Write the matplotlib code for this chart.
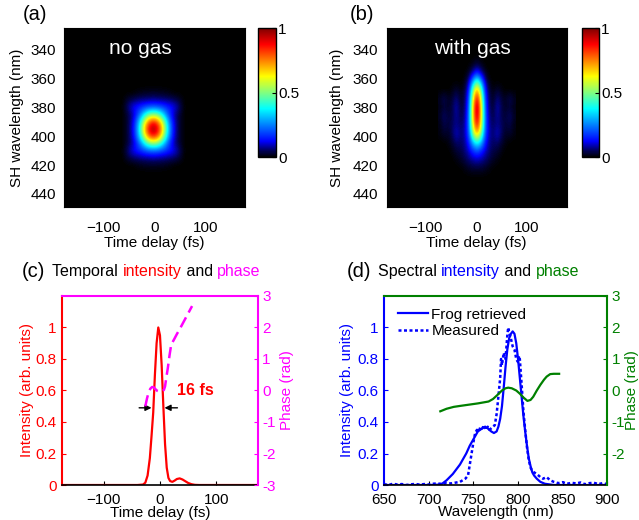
import matplotlib
matplotlib.use('Agg')
import matplotlib.pyplot as plt
from matplotlib.colors import LinearSegmentedColormap
import numpy as np

plt.rcParams['font.family'] = ['Liberation Sans', 'DejaVu Sans']
plt.rcParams['font.size'] = 11

###### FROG trace without gas (a)
a_delay = np.arange(-62, 59, 10)      # fs
a_wl = np.arange(365, 426, 5)         # nm
a_trace = np.array([
    [0, 0, 0, 0, 0, 0, 0, 0, 0, 0, 0, 0, 0],
    [0, 0, 0, 0.01, 0.015, 0.02, 0.02, 0.02, 0.015, 0.01, 0, 0, 0],
    [0, 0.03, 0.05, 0.06, 0.07, 0.07, 0.08, 0.07, 0.07, 0.06, 0.05, 0.03, 0],
    [0, 0.06, 0.12, 0.15, 0.18, 0.21, 0.22, 0.21, 0.18, 0.15, 0.12, 0.06, 0],
    [0, 0.03, 0.08, 0.18, 0.33, 0.47, 0.52, 0.47, 0.33, 0.18, 0.08, 0.03, 0],
    [0, 0.03, 0.1, 0.27, 0.52, 0.76, 0.86, 0.76, 0.52, 0.27, 0.1, 0.03, 0],
    [0, 0.03, 0.11, 0.3, 0.6, 0.88, 1.00, 0.88, 0.6, 0.3, 0.11, 0.03, 0],
    [0, 0.03, 0.1, 0.27, 0.52, 0.76, 0.86, 0.76, 0.52, 0.27, 0.1, 0.03, 0],
    [0, 0.03, 0.08, 0.18, 0.33, 0.47, 0.52, 0.47, 0.33, 0.18, 0.08, 0.03, 0],
    [0, 0.06, 0.12, 0.15, 0.18, 0.21, 0.22, 0.21, 0.18, 0.15, 0.12, 0.06, 0],
    [0, 0.03, 0.05, 0.06, 0.07, 0.07, 0.08, 0.07, 0.07, 0.06, 0.05, 0.03, 0],
    [0, 0, 0, 0.01, 0.015, 0.02, 0.02, 0.02, 0.015, 0.01, 0, 0, 0],
    [0, 0, 0, 0, 0, 0, 0, 0, 0, 0, 0, 0, 0],
])

###### FROG trace with gas (b)
b_delay = np.arange(-72, 73, 8)       # fs
b_wl = np.arange(344, 429, 6)         # nm
b_trace = np.array([
    [0, 0, 0, 0, 0, 0, 0, 0, 0, 0, 0, 0, 0, 0, 0, 0, 0, 0, 0],
    [0, 0, 0, 0, 0, 0, 0, 0, 0.01, 0.03, 0.01, 0, 0, 0, 0, 0, 0, 0, 0],
    [0, 0, 0, 0, 0, 0, 0, 0.02, 0.08, 0.15, 0.08, 0.02, 0, 0, 0, 0, 0, 0, 0],
    [0, 0, 0, 0, 0, 0, 0.01, 0.08, 0.28, 0.45, 0.28, 0.08, 0.01, 0, 0, 0, 0, 0, 0],
    [0, 0, 0, 0.01, 0.03, 0.01, 0.03, 0.14, 0.48, 0.75, 0.48, 0.14, 0.03, 0.01, 0.03, 0.01, 0, 0, 0],
    [0.02, 0.05, 0.02, 0.03, 0.07, 0.02, 0.04, 0.18, 0.6, 0.92, 0.6, 0.18, 0.04, 0.02, 0.07, 0.03, 0.02, 0.05, 0.02],
    [0.01, 0.03, 0.02, 0.04, 0.09, 0.03, 0.05, 0.2, 0.66, 1.0, 0.66, 0.2, 0.05, 0.03, 0.09, 0.04, 0.02, 0.03, 0.01],
    [0.02, 0.06, 0.03, 0.04, 0.08, 0.04, 0.06, 0.22, 0.66, 0.98, 0.66, 0.22, 0.06, 0.04, 0.08, 0.04, 0.03, 0.06, 0.02],
    [0.01, 0.04, 0.03, 0.05, 0.07, 0.05, 0.07, 0.22, 0.62, 0.9, 0.62, 0.22, 0.07, 0.05, 0.07, 0.05, 0.03, 0.04, 0.01],
    [0.01, 0.03, 0.02, 0.05, 0.1, 0.06, 0.08, 0.2, 0.52, 0.72, 0.52, 0.2, 0.08, 0.06, 0.1, 0.05, 0.02, 0.03, 0.01],
    [0, 0, 0.01, 0.03, 0.06, 0.05, 0.07, 0.15, 0.32, 0.42, 0.32, 0.15, 0.07, 0.05, 0.06, 0.03, 0.01, 0, 0],
    [0, 0, 0, 0.01, 0.03, 0.04, 0.06, 0.1, 0.16, 0.2, 0.16, 0.1, 0.06, 0.04, 0.03, 0.01, 0, 0, 0],
    [0, 0, 0, 0, 0.01, 0.02, 0.04, 0.06, 0.08, 0.09, 0.08, 0.06, 0.04, 0.02, 0.01, 0, 0, 0, 0],
    [0, 0, 0, 0, 0, 0, 0.01, 0.02, 0.03, 0.03, 0.03, 0.02, 0.01, 0, 0, 0, 0, 0, 0],
    [0, 0, 0, 0, 0, 0, 0, 0, 0, 0, 0, 0, 0, 0, 0, 0, 0, 0, 0],
])

###### Temporal intensity and phase (c)
t_int = [-174, -40, -30, -26, -22, -18, -15, -12, -9, -6, -3, 0, 3, 6, 9, 12, 15,
         18, 22, 26, 30, 35, 40, 45, 50, 56, 62, 70, 174]
int_t = [0, 0, 0.003, 0.015, 0.06, 0.17, 0.31, 0.46, 0.7, 0.9, 1.0, 0.95, 0.76, 0.5,
         0.26, 0.11, 0.045, 0.025, 0.02, 0.028, 0.038, 0.042, 0.035, 0.024, 0.013,
         0.005, 0.001, 0, 0]
t_phase = [-26, -23, -20, -17, -14, -11, -8, -5, -2, 1, 4, 7, 9, 11, 14, 17, 20, 25,
           30, 36, 42, 48, 54, 57]
phase_t = [-0.5, -0.25, -0.05, 0.06, 0.11, 0.1, 0.04, -0.01, -0.03, -0.04, -0.03, 0.02,
           0.13, 0.38, 0.72, 1.12, 1.46, 1.62, 1.79, 1.98, 2.18, 2.38, 2.58, 2.68]
fwhm_left, fwhm_right, half_level = -15, 8, 0.49

###### Spectral intensity and phase (d)
wl_frog = [650, 700, 710, 715, 720, 727, 735, 742, 746, 750, 755, 760, 763, 766, 770,
           773, 776, 778, 780, 782, 784, 786, 788, 790, 792, 794, 796, 798, 800, 802,
           804, 806, 808, 810, 812, 814, 816, 818, 821, 825, 830, 840, 900]
int_frog = [0, 0, 0.002, 0.008, 0.03, 0.07, 0.13, 0.2, 0.25, 0.29, 0.34, 0.36, 0.37,
            0.36, 0.34, 0.33, 0.34, 0.37, 0.42, 0.5, 0.62, 0.75, 0.86, 0.93, 0.96, 0.975,
            0.96, 0.9, 0.8, 0.68, 0.56, 0.44, 0.34, 0.25, 0.17, 0.12, 0.08, 0.06, 0.04,
            0.02, 0.008, 0, 0]
wl_meas = [650, 655, 660, 665, 670, 675, 680, 685, 690, 695, 700, 705, 710, 715, 720,
           725, 730, 735, 738, 741, 744, 746, 748, 750, 752, 754, 756, 758, 760, 762,
           764, 766, 768, 770, 772, 774, 776, 778, 780, 781, 782, 784, 786, 788, 789,
           790, 792, 794, 796, 798, 800, 801, 802, 804, 806, 808, 810, 812, 814, 816,
           818, 821, 825, 828, 832, 836, 840, 845, 850, 855, 860, 865, 870, 875, 880,
           885, 890, 895, 900]
int_meas = [0.005, 0.0, 0.008, 0.003, 0.006, 0.0, 0.004, 0.007, 0.002, 0.006, 0.003,
            0.008, 0.01, 0.006, 0.012, 0.01, 0.015, 0.02, 0.03, 0.04, 0.06, 0.13, 0.2,
            0.27, 0.33, 0.35, 0.34, 0.37, 0.36, 0.38, 0.35, 0.37, 0.35, 0.36, 0.37, 0.38,
            0.45, 0.56, 0.68, 0.8, 0.76, 0.84, 0.8, 0.95, 1.0, 0.97, 0.93, 0.88, 0.86, 0.8,
            0.78, 0.82, 0.8, 0.64, 0.47, 0.35, 0.24, 0.16, 0.11, 0.09, 0.08, 0.07, 0.05,
            0.04, 0.05, 0.03, 0.02, 0.012, 0.018, 0.008, 0.014, 0.01, 0.016, 0.005, 0.012,
            0.014, 0.006, 0.012, 0.005]
wl_phase = [713, 720, 728, 735, 745, 755, 761, 767, 772, 777, 782, 786, 789, 793, 798,
            802, 806, 810.5, 814, 817, 821, 825, 829, 832, 836, 840, 846]
phase_wl = [-0.66, -0.58, -0.52, -0.49, -0.45, -0.41, -0.38, -0.35, -0.27, -0.14, 0.0,
            0.07, 0.09, 0.07, 0.0, -0.1, -0.22, -0.33, -0.3, -0.2, 0.0, 0.18, 0.34, 0.44,
            0.52, 0.53, 0.53]

RED, MAG, BLUE, GREEN = '#ff0000', '#ff00ff', '#0000ff', '#008000'

# jet colour map whose bottom end fades into black
frog_cmap = LinearSegmentedColormap.from_list('jet_black', [
    (0.0, '#000000'), (0.04, '#00004a'), (0.12, '#0000ff'), (0.375, '#00ffff'),
    (0.625, '#ffff00'), (0.875, '#ff0000'), (1.0, '#800000')])

fig = plt.figure(figsize=(6.39, 5.2), dpi=100)


def frog_panel(rect, crect, delay, wl, trace, label, label_x, ylab_x):
    ax = fig.add_axes(rect)
    ax.set_facecolor('black')
    dt = delay[1] - delay[0]
    dw = wl[1] - wl[0]
    im = ax.imshow(trace, cmap=frog_cmap, vmin=0, vmax=1, aspect='auto', origin='upper',
                   interpolation='bicubic',
                   extent=(delay[0] - dt / 2, delay[-1] + dt / 2,
                           wl[-1] + dw / 2, wl[0] - dw / 2))
    ax.set_xlim(-177, 178)
    ax.set_ylim(449, 325)
    ax.set_xticks([-100, 0, 100])
    ax.set_yticks([340, 360, 380, 400, 420, 440])
    ax.tick_params(direction='in', length=3, color='k', pad=6)
    ax.tick_params(axis='x', pad=10)
    ax.set_xlabel('Time delay (fs)')
    ax.set_ylabel('SH wavelength (nm)')
    ax.xaxis.set_label_coords(0.5, -0.16)
    ax.yaxis.set_label_coords(ylab_x, 0.5)
    ax.text(label_x, 339, label, color='white', fontsize=15, ha='center', va='center')
    cax = fig.add_axes(crect)
    cb = fig.colorbar(im, cax=cax, ticks=[0, 0.5, 1])
    cb.ax.set_yticklabels(['0', '0.5', '1'])
    cb.ax.tick_params(direction='in', length=3, pad=1.5)
    cb.outline.set_linewidth(1)
    return ax


ax_a = frog_panel([0.1002, 0.602, 0.2833, 0.344], [0.4038, 0.698, 0.0282, 0.248],
                  a_delay, a_wl, a_trace, 'no gas', -28, -0.22)
ax_b = frog_panel([0.605, 0.602, 0.2817, 0.344], [0.9103, 0.698, 0.0271, 0.248],
                  b_delay, b_wl, b_trace, 'with gas', -8, -0.235)
fig.text(0.036, 0.972, '(a)', fontsize=14.5, va='center')
fig.text(0.547, 0.972, '(b)', fontsize=14.5, va='center')


def dual_axes(rect, lcol, rcol):
    ax = fig.add_axes(rect)
    ax2 = ax.twinx()
    ax.spines['top'].set_visible(False)
    ax.spines['right'].set_visible(False)
    ax.spines['left'].set_color(lcol)
    ax.spines['left'].set_linewidth(1.5)
    ax.spines['bottom'].set_linewidth(1.2)
    ax2.spines['left'].set_visible(False)
    ax2.spines['bottom'].set_visible(False)
    ax2.spines['right'].set_color(rcol)
    ax2.spines['top'].set_color(rcol)
    ax2.spines['right'].set_linewidth(1.5)
    ax2.spines['top'].set_linewidth(1.5)
    ax.set_ylim(0, 1.2)
    ax.set_yticks([0, 0.2, 0.4, 0.6, 0.8, 1])
    ax.set_yticklabels(['0', '0.2', '0.4', '0.6', '0.8', '1'])
    ax.tick_params(axis='y', direction='in', length=3, colors=lcol, pad=4)
    ax.tick_params(axis='x', direction='in', length=3, pad=5.5)
    ax2.set_ylim(-3, 3)
    ax2.tick_params(axis='y', direction='in', length=3, colors=rcol, pad=3)
    return ax, ax2


# (c)
ax_c, ax_c2 = dual_axes([0.097, 0.0673, 0.3067, 0.3635], RED, MAG)
ax_c.plot(t_int, int_t, color=RED, lw=1.6)
ax_c2.plot(t_phase, phase_t, color=MAG, lw=1.8, ls=(0, (4.5, 2.2)))
ax_c.set_xlim(-174, 174)
ax_c.set_xticks([-100, 0, 100])
ax_c2.set_yticks([3, 2, 1, 0, -1, -2, -3])
ax_c2.set_yticklabels(['3', '2', '1', '0', '-1', '-2', '-3'])
ax_c.set_xlabel('Time delay (fs)')
ax_c.xaxis.set_label_coords(0.5, -0.112)
ax_c.set_ylabel('Intensity (arb. units)', color=RED)
ax_c.yaxis.set_label_coords(-0.145, 0.5)
ax_c2.set_ylabel('Phase (rad)', color=MAG)
ax_c2.yaxis.set_label_coords(1.11, 0.5)
arrow = dict(arrowstyle='-|>', color='k', lw=1, shrinkA=0, shrinkB=0, mutation_scale=9)
ax_c.annotate('', xy=(fwhm_left, half_level), xytext=(fwhm_left - 22, half_level),
              arrowprops=arrow)
ax_c.annotate('', xy=(fwhm_right, half_level), xytext=(fwhm_right + 23, half_level),
              arrowprops=arrow)
ax_c.text(fwhm_right + 23, 0.6, '16 fs', color=RED, fontsize=11.5, fontweight='bold',
          va='center')

# (d)
ax_d, ax_d2 = dual_axes([0.601, 0.0673, 0.3495, 0.3635], BLUE, GREEN)
l1, = ax_d.plot(wl_frog, int_frog, color=BLUE, lw=1.6, label='Frog retrieved')
l2, = ax_d.plot(wl_meas, int_meas, color=BLUE, lw=1.8, ls=(0, (1.2, 1.0)),
                label='Measured')
ax_d2.plot(wl_phase, phase_wl, color=GREEN, lw=1.6)
ax_d.set_xlim(650, 900)
ax_d.set_xticks([650, 700, 750, 800, 850, 900])
ax_d2.set_yticks([3, 2, 1, 0, -1, -2])
ax_d2.set_yticklabels(['3', '2', '1', '0', '-1', '-2'])
ax_d.set_xlabel('Wavelength (nm)')
ax_d.xaxis.set_label_coords(0.5, -0.108)
ax_d.set_ylabel('Intensity (arb. units)', color=BLUE)
ax_d.yaxis.set_label_coords(-0.136, 0.5)
ax_d2.set_ylabel('Phase (rad)', color=GREEN)
ax_d2.yaxis.set_label_coords(1.079, 0.5)
ax_d2.legend(handles=[l1, l2], loc='upper left', bbox_to_anchor=(0.0, 1.01),
             frameon=False, handlelength=2.0, handletextpad=0.2, labelspacing=0.15,
             fontsize=11)

# titles with coloured words
for x0, letter, pieces in [
        (0.034, '(c)', [('Temporal ', 'k'), ('intensity', RED), (' and ', 'k'),
                        ('phase', MAG)]),
        (0.543, '(d)', [('Spectral ', 'k'), ('intensity', BLUE), (' and ', 'k'),
                        ('phase', GREEN)])]:
    y0 = 0.477
    fig.text(x0, y0, letter, fontsize=14.5, va='center')
    prev = fig.text(x0 + 0.048, y0, pieces[0][0], color=pieces[0][1], fontsize=11.5,
                    va='center')
    for txt, col in pieces[1:]:
        prev = ax_a.annotate(txt, xy=(1, 0), xycoords=prev, va='bottom', ha='left',
                             color=col, fontsize=11.5, annotation_clip=False)

fig.savefig('out.png', dpi=100)
